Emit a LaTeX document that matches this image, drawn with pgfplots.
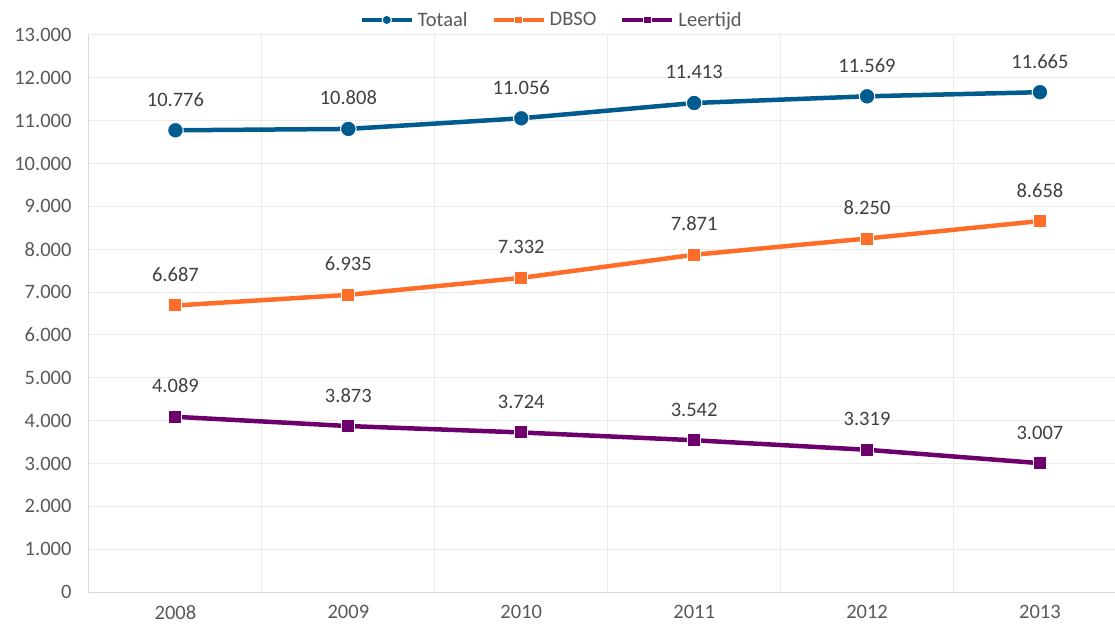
\documentclass[border=0pt]{standalone}
\usepackage{pgfplots}
\pgfplotsset{compat=1.18}
\usepackage{fontspec}
\setmainfont{Carlito}
\definecolor{cblue}{RGB}{0,91,143}
\definecolor{corange}{RGB}{255,110,40}
\definecolor{cpurple}{RGB}{110,0,110}
\definecolor{ctext}{RGB}{89,89,89}
\definecolor{clabel}{RGB}{64,64,64}
\definecolor{cgrid}{RGB}{235,235,235}
\definecolor{caxis}{RGB}{217,217,217}
\begin{document}
\begin{tikzpicture}
\useasboundingbox (-89pt,-33pt) rectangle (1026pt,592pt);
\begin{axis}[
  at={(0pt,0pt)}, anchor=south west,
  scale only axis, width=1026pt, height=557pt,
  xmin=-0.5, xmax=5.434, ymin=0, ymax=13000,
  axis x line*=bottom, axis y line*=left,
  axis line style={caxis, line width=1pt},
  xtick={0,1,2,3,4,5},
  xticklabels={2008,2009,2010,2011,2012,2013},
  minor xtick={0.5,1.5,2.5,3.5,4.5},
  xminorgrids=true, minor grid style={cgrid, line width=1pt},
  ytick={0,1000,...,13000},
  ymajorgrids=true, major grid style={cgrid, line width=1pt},
  major tick length=0pt, minor tick length=0pt,
  scaled y ticks=false,
  /pgf/number format/.cd, 1000 sep={.}, assume math mode=true,
  /pgfplots/.cd,
  tick label style={font=\fontsize{20.5}{24}\selectfont, text=ctext},
  yticklabel style={xshift=-14pt},
  xticklabel style={yshift=-10pt},
  nodes near coords,
  every node near coord/.append style={font=\fontsize{20.5}{24}\selectfont, text=clabel, anchor=base, inner sep=0pt, yshift=24pt},
  legend columns=-1,
  legend style={at={(0.451,1.027)}, anchor=center, draw=none, fill=none,
    font=\fontsize{20.5}{24}\selectfont, text=ctext,
    /tikz/every odd column/.append style={column sep=2pt},
    /tikz/every even column/.append style={column sep=22pt}},
  legend image code/.code={\draw[#1, line width=4pt, mark repeat=2, mark phase=2, every mark/.append style={scale=0.6}] plot coordinates {(0pt,0pt) (25pt,0pt) (50pt,0pt)};},
  legend cell align=left,
]
\addplot[cblue, line width=4.5pt, mark=*, mark size=7.8pt, mark options={draw=white, line width=1pt, fill=cblue}]
  coordinates {(0,10776) (1,10808) (2,11056) (3,11413) (4,11569) (5,11665)};
\addlegendentry{Totaal}
\addplot[corange, line width=4.5pt, mark=square*, mark size=6.5pt, mark options={draw=white, line width=1pt, fill=corange}]
  coordinates {(0,6687) (1,6935) (2,7332) (3,7871) (4,8250) (5,8658)};
\addlegendentry{DBSO}
\addplot[cpurple, line width=4.5pt, mark=square*, mark size=6.5pt, mark options={draw=white, line width=1pt, fill=cpurple}]
  coordinates {(0,4089) (1,3873) (2,3724) (3,3542) (4,3319) (5,3007)};
\addlegendentry{Leertijd}
\end{axis}
\end{tikzpicture}
\end{document}
